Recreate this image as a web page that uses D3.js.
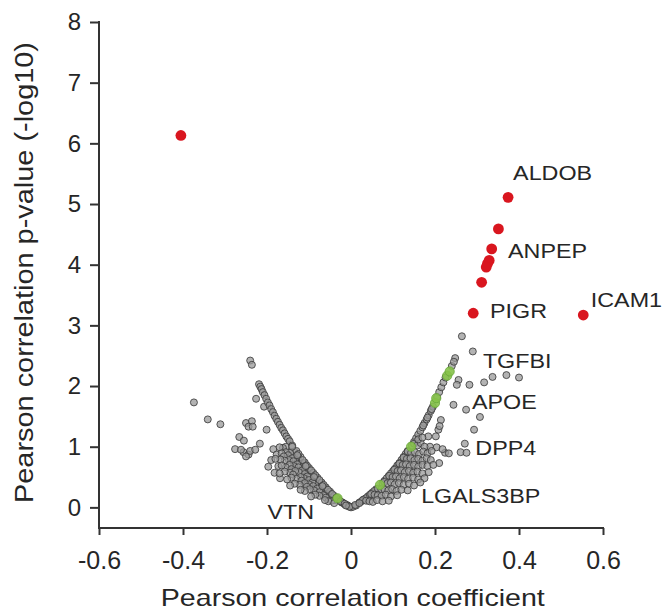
<!DOCTYPE html>
<html>
<head>
<meta charset="utf-8">
<script src="https://cdn.jsdelivr.net/npm/d3@7"></script>
<style>
  html, body { margin: 0; padding: 0; background: #ffffff; }
  svg { display: block; }
  text { font-family: "Liberation Sans", Arial, Helvetica, sans-serif; fill: #262626; }
</style>
</head>
<body>
<svg id="chart" width="663" height="610"></svg>
<script>
// ---------- DATA ----------
const xTicks = [-0.6, -0.4, -0.2, 0, 0.2, 0.4, 0.6];
const xTickLabels = ["-0.6", "-0.4", "-0.2", "0", "0.2", "0.4", "0.6"];
const yTicks = [0, 1, 2, 3, 4, 5, 6, 7, 8];
const xTitle = "Pearson correlation coefficient";
const yTitle = "Pearson correlation p-value (-log10)";

// significant proteins [r, -log10 p]
const redPoints = [
  [-0.405, 6.13], [0.374, 5.11], [0.351, 4.59], [0.335, 4.26], [0.329, 4.07],
  [0.325, 4.02], [0.322, 3.96], [0.311, 3.71], [0.291, 3.20], [0.553, 3.17]
];

// highlighted (green) proteins
const greenPoints = [
  [-0.032, 0.15], [0.069, 0.37], [0.143, 1.00], [0.200, 1.72], [0.203, 1.80],
  [0.229, 2.17], [0.235, 2.24]
];

// other proteins - left side
const grayLeft = [
  [-0.240, 2.42], [-0.236, 2.35], [-0.374, 1.73], [-0.341, 1.45], [-0.311, 1.37],
  [-0.226, 1.79], [-0.207, 1.66],
  [-0.219, 2.03], [-0.216, 1.99], [-0.213, 1.95], [-0.210, 1.90], [-0.206, 1.85],
  [-0.202, 1.79], [-0.198, 1.73], [-0.194, 1.68], [-0.190, 1.62], [-0.186, 1.57],
  [-0.182, 1.51], [-0.178, 1.46], [-0.174, 1.41], [-0.170, 1.36], [-0.166, 1.31],
  [-0.162, 1.27], [-0.158, 1.22], [-0.154, 1.17], [-0.150, 1.13], [-0.146, 1.09],
  [-0.250, 1.39], [-0.236, 1.42], [-0.244, 1.33], [-0.234, 1.33], [-0.201, 1.28],
  [-0.266, 1.16], [-0.255, 1.10], [-0.217, 1.05], [-0.276, 0.96], [-0.256, 0.91],
  [-0.244, 0.87], [-0.262, 0.95], [-0.240, 0.93], [-0.250, 0.84], [-0.228, 0.95],
  [-0.185, 0.96], [-0.177, 0.87], [-0.197, 0.67], [-0.173, 0.68], [-0.182, 0.57],
  [-0.169, 0.48], [-0.190, 0.78],
  [-0.155, 1.00], [-0.162, 0.98], [-0.170, 0.99], [-0.140, 1.02],
  [-0.135, 0.92], [-0.145, 0.90], [-0.155, 0.91], [-0.165, 0.89], [-0.150, 0.86], [-0.160, 0.84],
  [-0.125, 0.82], [-0.132, 0.80], [-0.140, 0.81], [-0.148, 0.78], [-0.158, 0.77], [-0.168, 0.79],
  [-0.137, 0.76], [-0.180, 0.80],
  [-0.112, 0.72], [-0.120, 0.70], [-0.128, 0.71], [-0.136, 0.68], [-0.146, 0.70], [-0.155, 0.66],
  [-0.165, 0.69], [-0.125, 0.66], [-0.142, 0.63],
  [-0.100, 0.62], [-0.108, 0.60], [-0.116, 0.61], [-0.124, 0.58], [-0.133, 0.60], [-0.145, 0.57],
  [-0.158, 0.59], [-0.170, 0.56], [-0.110, 0.55], [-0.138, 0.54],
  [-0.088, 0.52], [-0.096, 0.50], [-0.104, 0.51], [-0.112, 0.48], [-0.120, 0.50], [-0.130, 0.47],
  [-0.142, 0.49], [-0.152, 0.46], [-0.118, 0.44], [-0.100, 0.45],
  [-0.076, 0.42], [-0.084, 0.40], [-0.092, 0.41], [-0.100, 0.38], [-0.110, 0.40], [-0.122, 0.37],
  [-0.134, 0.39], [-0.090, 0.35], [-0.105, 0.34], [-0.145, 0.36],
  [-0.064, 0.32], [-0.072, 0.30], [-0.080, 0.31], [-0.088, 0.28], [-0.098, 0.30], [-0.110, 0.27],
  [-0.075, 0.25], [-0.120, 0.29],
  [-0.050, 0.23], [-0.058, 0.21], [-0.066, 0.20], [-0.075, 0.19], [-0.085, 0.21], [-0.060, 0.16],
  [-0.095, 0.18],
  [-0.030, 0.13], [-0.038, 0.12], [-0.046, 0.11], [-0.054, 0.10], [-0.022, 0.08], [-0.015, 0.05],
  [-0.008, 0.03], [-0.040, 0.07], [-0.062, 0.12],
  [-0.130, 0.93], [-0.120, 0.83], [-0.110, 0.74], [-0.100, 0.65], [-0.090, 0.57], [-0.080, 0.49],
  [-0.070, 0.41], [-0.060, 0.33], [-0.050, 0.26], [-0.040, 0.19], [-0.020, 0.08], [-0.010, 0.04],
  [-0.140, 1.00], [-0.125, 0.88], [-0.115, 0.78], [-0.105, 0.69], [-0.095, 0.61], [-0.085, 0.53],
  [-0.075, 0.45], [-0.065, 0.37], [-0.055, 0.29], [-0.045, 0.22], [-0.035, 0.16], [-0.025, 0.10],
  [-0.015, 0.06], [-0.005, 0.02], [-0.128, 0.86], [-0.108, 0.68], [-0.088, 0.50], [-0.068, 0.35]
];

// other proteins - right side
const grayRight = [
  [0.000, 0.00], [0.005, 0.01], [-0.004, 0.01], [0.012, 0.03], [-0.012, 0.03],
  [0.264, 2.82], [0.248, 2.46], [0.290, 2.57], [0.256, 2.10], [0.252, 2.02], [0.282, 2.02],
  [0.317, 2.06], [0.337, 2.15], [0.370, 2.18], [0.400, 2.14],
  [0.244, 1.69], [0.274, 1.61], [0.307, 1.49], [0.214, 1.44], [0.208, 1.28], [0.202, 1.17],
  [0.184, 1.17], [0.293, 1.28], [0.211, 1.34],
  [0.188, 1.00], [0.204, 0.99], [0.224, 0.90], [0.271, 1.05], [0.261, 0.91], [0.275, 0.90],
  [0.210, 0.73], [0.233, 0.89], [0.218, 0.96],
  [0.150, 1.08], [0.155, 1.14], [0.160, 1.20], [0.165, 1.26], [0.170, 1.32], [0.175, 1.39],
  [0.180, 1.45], [0.185, 1.52], [0.190, 1.59], [0.195, 1.66], [0.205, 1.82], [0.210, 1.90],
  [0.215, 1.98], [0.220, 2.06], [0.225, 2.14], [0.240, 2.33], [0.245, 2.40],
  [0.020, 0.08], [0.030, 0.13], [0.040, 0.18], [0.050, 0.24], [0.060, 0.30], [0.080, 0.44],
  [0.090, 0.52], [0.100, 0.60], [0.110, 0.69], [0.120, 0.78], [0.130, 0.88],
  [0.010, 0.04], [0.025, 0.10], [0.035, 0.15], [0.045, 0.21], [0.055, 0.27], [0.075, 0.40],
  [0.085, 0.48], [0.095, 0.56], [0.105, 0.64], [0.115, 0.73], [0.125, 0.83], [0.135, 0.93],
  [0.145, 1.02], [0.172, 1.35], [0.182, 1.48], [0.192, 1.62],
  [0.150, 1.05], [0.158, 1.02], [0.166, 1.06], [0.175, 1.00], [0.160, 1.12], [0.170, 1.15],
  [0.135, 0.92], [0.143, 0.90], [0.152, 0.91], [0.162, 0.88], [0.172, 0.92], [0.182, 0.89], [0.192, 0.93],
  [0.125, 0.82], [0.133, 0.80], [0.142, 0.81], [0.151, 0.78], [0.160, 0.80], [0.170, 0.77],
  [0.180, 0.81], [0.190, 0.78],
  [0.115, 0.72], [0.123, 0.70], [0.131, 0.71], [0.140, 0.68], [0.150, 0.70], [0.160, 0.67],
  [0.170, 0.70], [0.182, 0.68], [0.196, 0.70],
  [0.103, 0.62], [0.111, 0.60], [0.119, 0.61], [0.128, 0.58], [0.138, 0.60], [0.148, 0.57],
  [0.158, 0.59], [0.170, 0.56], [0.185, 0.58],
  [0.091, 0.52], [0.099, 0.50], [0.107, 0.51], [0.116, 0.48], [0.126, 0.50], [0.136, 0.47],
  [0.148, 0.49], [0.160, 0.46], [0.175, 0.48],
  [0.079, 0.42], [0.087, 0.40], [0.095, 0.41], [0.104, 0.38], [0.114, 0.40], [0.125, 0.37],
  [0.138, 0.39], [0.150, 0.36], [0.165, 0.41],
  [0.064, 0.31], [0.072, 0.30], [0.080, 0.29], [0.089, 0.28], [0.098, 0.30], [0.108, 0.27],
  [0.120, 0.29], [0.135, 0.28],
  [0.048, 0.22], [0.056, 0.21], [0.064, 0.20], [0.073, 0.19], [0.083, 0.21], [0.095, 0.18],
  [0.110, 0.20],
  [0.028, 0.12], [0.036, 0.11], [0.044, 0.10], [0.052, 0.09], [0.062, 0.12], [0.075, 0.10],
  [0.020, 0.07], [0.090, 0.11]
];

// protein labels: name, anchor position in data units
const labelNames = ["ALDOB", "ANPEP", "PIGR", "ICAM1", "TGFBI", "APOE", "DPP4", "LGALS3BP", "VTN"];
const labelR = [0.386, 0.374, 0.331, 0.571, 0.314, 0.288, 0.296, 0.167, -0.199];
const labelP = [5.40, 4.11, 3.12, 3.30, 2.30, 1.62, 0.87, 0.08, -0.19];

// ---------- CHART ----------
const svg = d3.select("#chart");
const x = d3.scaleLinear().domain([-0.6, 0.6]).range([99, 603]);
const y = d3.scaleLinear().domain([-0.34, 8]).range([528, 22]);

const axisColor = "#333333";
const textColor = "#2b2b2b";

// points
svg.append("g").selectAll("circle").data(grayLeft.concat(grayRight)).join("circle")
  .attr("cx", d => x(d[0])).attr("cy", d => y(d[1])).attr("r", 3.5)
  .attr("fill", "#999999").attr("fill-opacity", 0.75)
  .attr("stroke", "#3c3c3c").attr("stroke-opacity", 0.85).attr("stroke-width", 1);

svg.append("g").selectAll("circle").data(greenPoints).join("circle")
  .attr("cx", d => x(d[0])).attr("cy", d => y(d[1])).attr("r", 4.6)
  .attr("fill", "#86c24a").attr("fill-opacity", 0.9)
  .attr("stroke", "#6aa83a").attr("stroke-width", 0.8);

svg.append("g").selectAll("circle").data(redPoints).join("circle")
  .attr("cx", d => x(d[0])).attr("cy", d => y(d[1])).attr("r", 5.4)
  .attr("fill", "#d9161f");

// axes
const yAxis = svg.append("g").attr("transform", `translate(${x(-0.6)},0)`)
  .call(d3.axisLeft(y).tickValues(yTicks).tickFormat(d3.format("d")).tickSize(9).tickPadding(9).tickSizeOuter(0));
yAxis.select(".domain").remove();
yAxis.selectAll(".tick line").attr("stroke", axisColor).attr("stroke-width", 2);
yAxis.selectAll(".tick text").attr("font-size", 24).attr("fill", textColor)
  .style("font-family", '"Liberation Sans", Arial, sans-serif');

const xAxis = svg.append("g").attr("transform", `translate(0,${y(-0.34)})`)
  .call(d3.axisBottom(x).tickValues(xTicks).tickFormat((d, i) => xTickLabels[i]).tickSize(7).tickPadding(16).tickSizeOuter(0));
xAxis.select(".domain").remove();
xAxis.selectAll(".tick line").attr("stroke", axisColor).attr("stroke-width", 2);
xAxis.selectAll(".tick text").attr("font-size", 25).attr("fill", textColor)
  .style("font-family", '"Liberation Sans", Arial, sans-serif');

// axis lines
svg.append("line").attr("x1", x(-0.6)).attr("x2", x(-0.6)).attr("y1", y(8)).attr("y2", y(-0.34))
  .attr("stroke", axisColor).attr("stroke-width", 2).attr("stroke-linecap", "square");
svg.append("line").attr("x1", x(-0.6)).attr("x2", x(0.6)).attr("y1", y(-0.34)).attr("y2", y(-0.34))
  .attr("stroke", axisColor).attr("stroke-width", 2).attr("stroke-linecap", "square");

// axis titles
svg.append("text").attr("x", 352.8).attr("y", 605.7).attr("text-anchor", "middle")
  .attr("font-size", 24).attr("textLength", 384).attr("lengthAdjust", "spacingAndGlyphs")
  .attr("fill", textColor).text(xTitle);
svg.append("text").attr("transform", "translate(33.3,272.5) rotate(-90)").attr("text-anchor", "middle")
  .attr("font-size", 25).attr("textLength", 461).attr("lengthAdjust", "spacingAndGlyphs")
  .attr("fill", textColor).text(yTitle);

// protein labels
svg.append("g").selectAll("text").data(labelNames).join("text")
  .attr("transform", (d, i) => `translate(${x(labelR[i])},${y(labelP[i])}) scale(1.11,1)`)
  .attr("font-size", 21).attr("fill", textColor)
  .text(d => d);
</script>
</body>
</html>
